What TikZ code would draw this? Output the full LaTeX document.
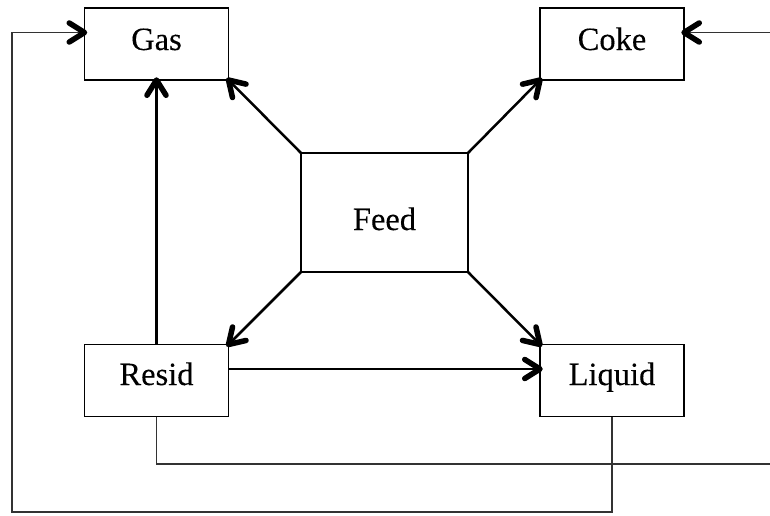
\documentclass[tikz,border=0pt]{standalone}
\usepackage{fontspec}
\newfontface\labelfont{Liberation Serif}[FakeBold=0.2]
\usetikzlibrary{calc}
\newcommand{\barbhead}[2]{\draw[barb] ($(#2)!18pt!32:(#1)$) -- (#2) -- ($(#2)!18pt!-32:(#1)$);}
\begin{document}
\begin{tikzpicture}[x=1pt,y=-1pt,
  box/.style={draw=black,line width=1.5pt,rectangle,inner sep=0pt,outer sep=0pt,
    font=\labelfont\fontsize{32.5}{38}\selectfont},
  shaft/.style={line width=2.5pt,shorten >=3pt},
  barb/.style={line width=5.5pt,line cap=round,line join=round},
  loopline/.style={draw=black!80,line width=1.2pt,shorten >=3pt}]
\useasboundingbox (0,0) rectangle (770,515);
\node[box,minimum width=144pt,minimum height=72pt,text height=22pt,text depth=10pt] (gas) at (156.5,44) {Gas};
\node[box,minimum width=144pt,minimum height=72pt,text height=22pt,text depth=10pt] (coke) at (612,44) {Coke};
\node[box,minimum width=167pt,minimum height=119pt,text height=40pt,text depth=5pt] (feed) at (384.5,212.5) {Feed};
\node[box,minimum width=144pt,minimum height=72pt,text height=22pt,text depth=13pt] (resid) at (156.5,380.5) {Resid};
\node[box,minimum width=144pt,minimum height=72pt,text height=22pt,text depth=13pt] (liquid) at (612,380.5) {Liquid};
\coordinate (rr) at (780,464);
\coordinate (ll) at (12,512);
\coordinate (cokein) at ([yshift=11.5pt]coke.east);
\coordinate (gasin) at ([yshift=11.5pt]gas.west);
\coordinate (residout) at (resid.east |- 0,369);
\coordinate (liquidin) at (liquid.west |- 0,369);
\draw[shaft] (feed.north west) -- (gas.south east);
\barbhead{feed.north west}{gas.south east}
\draw[shaft] (feed.north east) -- (coke.south west);
\barbhead{feed.north east}{coke.south west}
\draw[shaft] (feed.south west) -- (resid.north east);
\barbhead{feed.south west}{resid.north east}
\draw[shaft] (feed.south east) -- (liquid.north west);
\barbhead{feed.south east}{liquid.north west}
\draw[shaft] (resid.north) -- (gas.south);
\barbhead{resid.north}{gas.south}
\draw[shaft] (residout) -- (liquidin);
\barbhead{residout}{liquidin}
\draw[loopline] (resid.south) |- (rr) |- (cokein);
\barbhead{rr |- cokein}{cokein}
\draw[loopline] (liquid.south) |- (ll) |- (gasin);
\barbhead{ll |- gasin}{gasin}
\end{tikzpicture}
\end{document}
